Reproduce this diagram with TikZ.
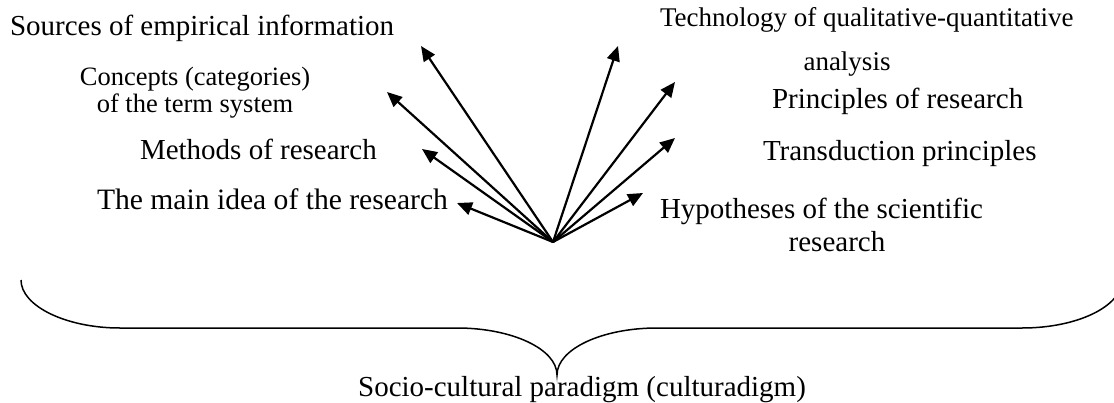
\documentclass[tikz,border=0pt]{standalone}
\usepackage{fontspec}
\setmainfont{Liberation Serif}
\usetikzlibrary{arrows.meta}
\tikzset{
  lbl/.style={inner sep=0pt, outer sep=0pt, font=\fontsize{29}{34}\selectfont},
  lblsmall/.style={inner sep=0pt, outer sep=0pt, font=\fontsize{26.5}{30}\selectfont},
  lblmid/.style={inner sep=0pt, outer sep=0pt, font=\fontsize{27}{31}\selectfont},
  ray/.style={line width=2.2pt, -{Triangle[length=15pt,width=13pt]}},
  bracestyle/.style={line width=1.5pt}
}
\begin{document}
\begin{tikzpicture}[x=1pt,y=-1pt]
\useasboundingbox (0,0) rectangle (1114,402);
% left labels
\node[lbl, anchor=base west] (src) at (10,35) {Sources of empirical information};
\node[lblsmall, anchor=base] (conA) at (195,85) {Concepts (categories)};
\node[lblsmall, anchor=base] (conB) at (195,112) {of the term system};
\node[lbl, anchor=base west] (meth) at (140,159) {Methods of research};
\node[lbl, anchor=base west, font=\fontsize{29.6}{34}\selectfont] (idea) at (97,209) {The main idea of the research};
% right labels
\node[lblmid, anchor=base west] (techA) at (660,26) {Technology of qualitative-quantitative};
\node[lblmid, anchor=base] (techB) at (847,70) {analysis};
\node[lbl, anchor=base west] (princ) at (772,108) {Principles of research};
\node[lbl, anchor=base west] (trans) at (763,160) {Transduction principles};
\node[lbl, anchor=base west] (hypA) at (660,218) {Hypotheses of the scientific};
\node[lbl, anchor=base] (hypB) at (837,251) {research};
% rays
\coordinate (o) at (553,242);
\coordinate (t1) at (421,46);
\coordinate (t2) at (387,92);
\coordinate (t3) at (422,149);
\coordinate (t4) at (457,203);
\coordinate (t5) at (618,46);
\coordinate (t6) at (675,82);
\coordinate (t7) at (675,138);
\coordinate (t8) at (643,193);
\foreach \t in {t1,t2,t3,t4,t5,t6,t7,t8} \draw[ray] (o) -- (\t);
% brace
\coordinate (bl) at (21,280);
\coordinate (br) at (1122,280);
\coordinate (btip) at (557,375);
\draw[bracestyle] (bl) .. controls (21,306) and (66,328) .. (120,328)
  -- (457,328) .. controls (512,328) and (557,349) .. (btip)
  .. controls (557,349) and (602,328) .. (657,328)
  -- (1022,328) .. controls (1078,328) and (1122,306) .. (br);
\node[lbl, anchor=base] (para) at (582,396) {Socio-cultural paradigm (culturadigm)};
\end{tikzpicture}
\end{document}
